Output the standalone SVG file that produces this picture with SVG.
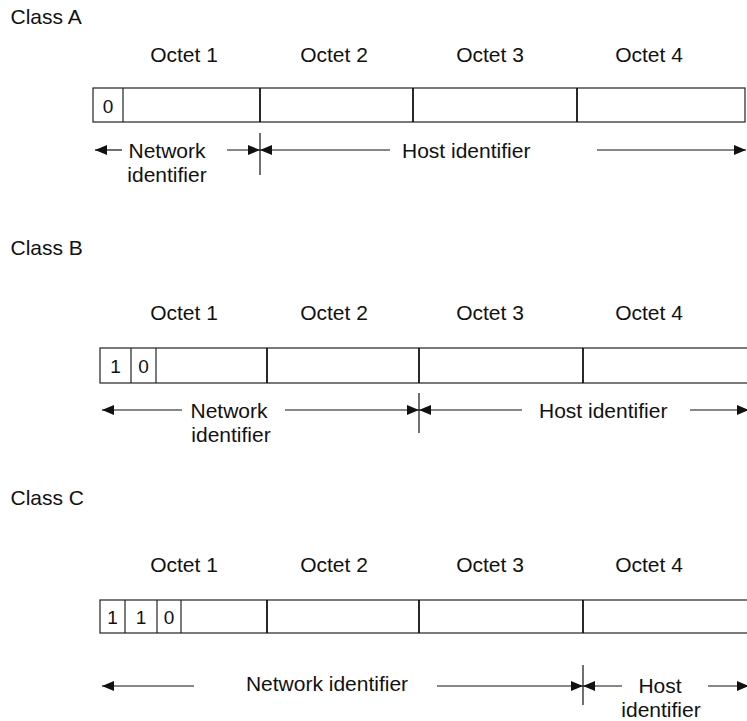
<svg xmlns="http://www.w3.org/2000/svg" width="747" height="721" viewBox="0 0 747 721">
<defs>
<style>
text{font-family:"Liberation Sans",Arial,sans-serif;font-size:21px;fill:#111}
.d{font-size:19px;text-anchor:middle}
.m{text-anchor:middle}
.box{fill:#fff;stroke:#222;stroke-width:1.2}
.cell{stroke:#222;stroke-width:1.2}
.oct{stroke:#111;stroke-width:1.8}
.ln{stroke:#111;stroke-width:1.2;fill:none}
.r{marker-end:url(#ah)}
.l{marker-start:url(#ah)}
</style>
<marker id="ah" viewBox="0 0 12 10" refX="12" refY="5" markerWidth="12" markerHeight="10" markerUnits="userSpaceOnUse" orient="auto-start-reverse">
<path d="M0,0 L12,5 L0,10 z" fill="#111"/>
</marker>
</defs>
<rect width="747" height="721" fill="#fff"/>

<g id="classA">
<text x="10.5" y="24">Class A</text>
<text class="m" x="184" y="62">Octet 1</text>
<text class="m" x="334" y="62">Octet 2</text>
<text class="m" x="490" y="62">Octet 3</text>
<text class="m" x="649" y="62">Octet 4</text>
<rect class="box" x="93" y="88" width="652" height="34"/>
<line class="cell" x1="123" y1="88" x2="123" y2="122"/>
<line class="oct" x1="260" y1="88" x2="260" y2="122"/>
<line class="oct" x1="413" y1="88" x2="413" y2="122"/>
<line class="oct" x1="577" y1="88" x2="577" y2="122"/>
<text class="d" x="108" y="113">0</text>
<text class="m" x="167" y="158">Network</text>
<text class="m" x="167" y="182">identifier</text>
<text x="402" y="158">Host identifier</text>
</g>

<g id="classB">
<text x="10.5" y="255">Class B</text>
<text class="m" x="184" y="320">Octet 1</text>
<text class="m" x="334" y="320">Octet 2</text>
<text class="m" x="490" y="320">Octet 3</text>
<text class="m" x="649" y="320">Octet 4</text>
<rect class="box" x="100" y="348" width="660" height="35"/>
<line class="cell" x1="131" y1="348" x2="131" y2="383"/>
<line class="cell" x1="156" y1="348" x2="156" y2="383"/>
<line class="oct" x1="267" y1="348" x2="267" y2="383"/>
<line class="oct" x1="419" y1="348" x2="419" y2="383"/>
<line class="oct" x1="583" y1="348" x2="583" y2="383"/>
<text class="d" x="115.5" y="373">1</text>
<text class="d" x="143.5" y="373">0</text>
<text class="m" x="229" y="418">Network</text>
<text class="m" x="231" y="442">identifier</text>
<text x="539" y="418">Host identifier</text>
</g>

<g id="classC">
<text x="10.5" y="505">Class C</text>
<text class="m" x="184" y="572">Octet 1</text>
<text class="m" x="334" y="572">Octet 2</text>
<text class="m" x="490" y="572">Octet 3</text>
<text class="m" x="649" y="572">Octet 4</text>
<rect class="box" x="100" y="600" width="660" height="33"/>
<line class="cell" x1="125" y1="600" x2="125" y2="633"/>
<line class="cell" x1="157" y1="600" x2="157" y2="633"/>
<line class="cell" x1="181" y1="600" x2="181" y2="633"/>
<line class="oct" x1="267" y1="600" x2="267" y2="633"/>
<line class="oct" x1="419" y1="600" x2="419" y2="633"/>
<line class="oct" x1="583" y1="600" x2="583" y2="633"/>
<text class="d" x="112.5" y="624">1</text>
<text class="d" x="141" y="624">1</text>
<text class="d" x="169" y="624">0</text>
<text class="m" x="327" y="691">Network identifier</text>
<text class="m" x="660" y="693">Host</text>
<text class="m" x="661" y="717">identifier</text>
</g>

<g id="connectors">
<line class="ln l" x1="95" y1="150" x2="122" y2="150"/>
<line class="ln r" x1="227" y1="150" x2="260" y2="150"/>
<line class="ln l" x1="260" y1="150" x2="390" y2="150"/>
<line class="ln r" x1="597" y1="150" x2="746" y2="150"/>
<line class="ln" x1="260" y1="133" x2="260" y2="175"/>

<line class="ln l" x1="102" y1="410" x2="182" y2="410"/>
<line class="ln r" x1="285" y1="410" x2="419" y2="410"/>
<line class="ln l" x1="419" y1="410" x2="522" y2="410"/>
<line class="ln r" x1="690" y1="410" x2="749" y2="410"/>
<line class="ln" x1="419" y1="393" x2="419" y2="433"/>

<line class="ln l" x1="102" y1="686" x2="194" y2="686"/>
<line class="ln r" x1="437" y1="686" x2="583" y2="686"/>
<line class="ln l" x1="583" y1="686" x2="622" y2="686"/>
<line class="ln r" x1="708" y1="686" x2="749" y2="686"/>
<line class="ln" x1="583" y1="665" x2="583" y2="705"/>
</g>
</svg>
